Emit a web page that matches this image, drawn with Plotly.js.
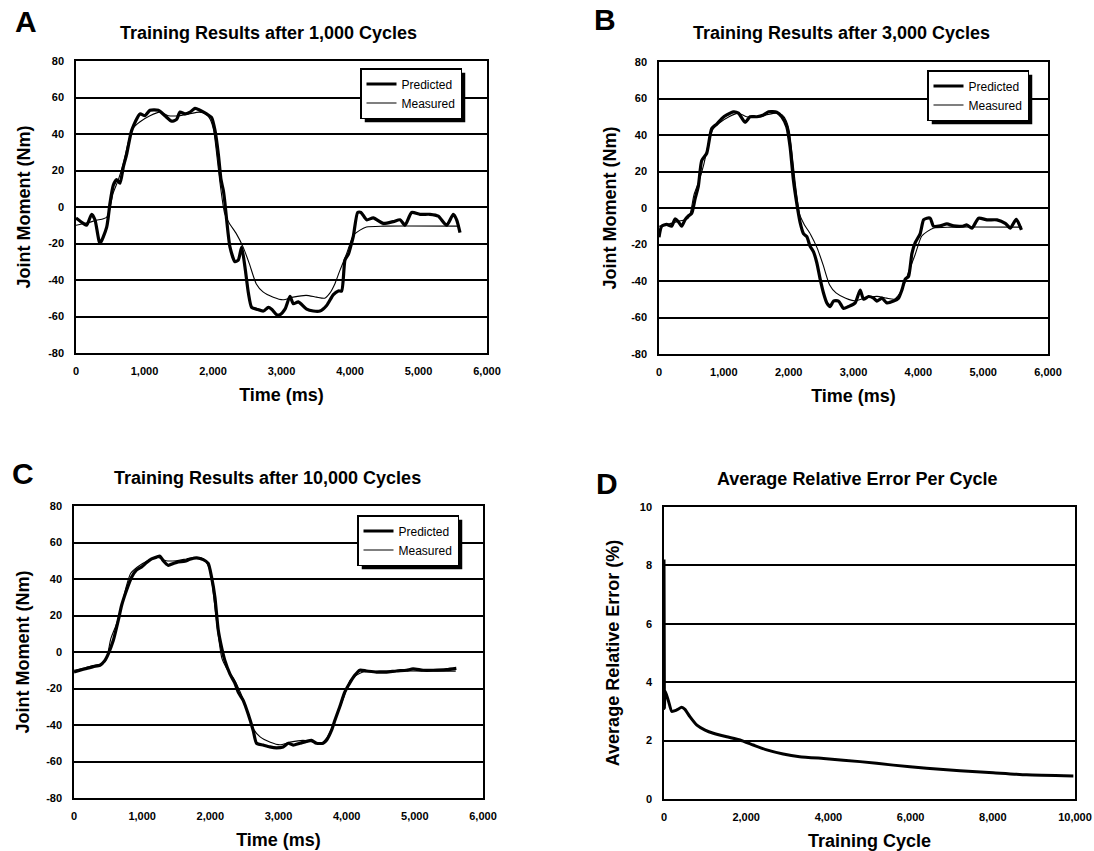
<!DOCTYPE html>
<html>
<head>
<meta charset="utf-8">
<script src="https://cdn.plot.ly/plotly-3.0.1.min.js"></script>
<style>
  html, body { margin: 0; padding: 0; background: #fff; }
  #chart { width: 1094px; height: 851px; }
</style>
</head>
<body>
<div id="chart"></div>
<script>
// ---------------- DATA ----------------
// Shared measured joint moment (thin line)
const measuredTime = [0, 150, 300, 400, 450, 490, 540, 615, 690, 760, 830, 930, 1080, 1220, 1350, 1500, 1650, 1800, 1900, 1960, 2010, 2060, 2110, 2170, 2240, 2340, 2440, 2530, 2630, 2730, 2880, 3020, 3170, 3360, 3510, 3630, 3700, 3780, 3850, 3950, 4050, 4140, 4240, 4480, 5600];
const measuredMoment = [-10, -8.8, -7.3, -6.4, -5.5, -1.8, 7.3, 14.6, 23.8, 35, 43, 46.6, 50, 52, 50, 50, 51, 52, 51, 48, 42, 27, 11, -3.5, -9, -14.6, -22, -31, -42, -46.5, -49.4, -50.8, -49.4, -48.4, -49.4, -50, -47.5, -42, -35, -25.6, -15.5, -12.8, -11, -10.5, -10.5];

// Predicted after 1,000 cycles (A)
const predTimeA = [0, 107, 156, 229, 277, 350, 448, 496, 545, 594, 642, 691, 740, 813, 934, 1007, 1080, 1202, 1299, 1397, 1469, 1518, 1591, 1664, 1737, 1810, 1907, 1980, 2029, 2078, 2117, 2151, 2175, 2199, 2248, 2321, 2370, 2418, 2467, 2516, 2564, 2637, 2735, 2808, 2856, 2929, 2978, 3051, 3124, 3173, 3246, 3367, 3464, 3562, 3659, 3757, 3830, 3878, 3927, 3976, 4000, 4049, 4112, 4160, 4243, 4340, 4486, 4632, 4730, 4803, 4900, 5022, 5168, 5289, 5411, 5508, 5557, 5606];
const predMomentA = [-6, -9, -10, -4, -7, -20, -11, 2, 12, 15, 13, 22, 29, 42, 51, 50, 53, 53, 50, 47, 48, 52, 51, 52, 54, 53, 51, 49, 42, 29, 15, 9, 2, -7, -22, -30, -29, -22, -33, -47, -55, -56, -57, -55, -56, -59, -59, -56, -49, -53, -52, -56, -57, -57, -54, -48, -46, -46, -29, -26, -23, -16, -3, -3, -7, -6, -9, -8, -7, -10, -3, -4, -4, -5, -10, -4, -7, -14];

// Predicted after 3,000 cycles (B)
const predTimeB = [0, 41, 118, 196, 247, 298, 350, 401, 453, 504, 556, 607, 659, 736, 813, 890, 967, 1045, 1148, 1225, 1328, 1405, 1508, 1611, 1688, 1817, 1894, 1971, 2022, 2074, 2125, 2177, 2228, 2280, 2331, 2383, 2434, 2486, 2537, 2588, 2640, 2691, 2769, 2846, 2923, 3026, 3103, 3155, 3232, 3309, 3360, 3438, 3515, 3618, 3695, 3746, 3798, 3849, 3901, 3952, 4029, 4081, 4132, 4184, 4235, 4338, 4441, 4544, 4673, 4750, 4827, 4930, 5058, 5213, 5341, 5419, 5511, 5590];
const predMomentB = [-16, -10, -9, -10, -6, -7.5, -10, -6.5, -4.4, -3, 5, 12, 26, 30, 43.5, 46, 49, 51, 52.7, 52, 47, 50, 50, 51, 52.7, 52.5, 50, 44.5, 33.5, 15, 2.5, -8, -14, -15.7, -21, -24, -30, -39, -46.6, -52, -54, -51, -51, -55, -54, -52, -45, -50, -48.5, -49.4, -51, -49.4, -52, -51, -49.4, -45, -39, -37.5, -25, -19, -14, -6.5, -5.6, -5.6, -10, -9.8, -8.7, -9.8, -10, -9.3, -11, -5.6, -6.5, -6.5, -8.4, -11, -6.2, -12];

// Predicted after 10,000 cycles (C)
const predTimeC = [0, 88, 186, 283, 381, 454, 503, 577, 650, 699, 772, 845, 919, 992, 1065, 1138, 1212, 1261, 1309, 1383, 1456, 1529, 1627, 1700, 1798, 1896, 1969, 2018, 2067, 2116, 2164, 2213, 2287, 2360, 2409, 2482, 2555, 2629, 2678, 2775, 2873, 2971, 3068, 3142, 3215, 3313, 3410, 3484, 3557, 3655, 3704, 3777, 3826, 3899, 3972, 4046, 4119, 4192, 4290, 4437, 4583, 4730, 4876, 4974, 5121, 5268, 5462, 5609];
const predMomentC = [-11, -10, -9, -8, -7.3, -4.6, -1, 6.4, 17.4, 25.6, 34, 41, 45, 46.6, 49, 51, 52, 52.5, 50, 47.5, 48.5, 49.4, 49.7, 50.8, 51.5, 50.6, 48.5, 41, 30, 12, 2.7, -4.6, -12, -17, -22, -26.5, -34, -43, -50, -51, -52, -52.5, -52, -50, -51, -50, -49, -48.4, -50, -50, -48.4, -43, -37.5, -30, -22, -17, -12.8, -10, -10.4, -11, -11, -10.4, -10, -9.3, -10, -10, -9.7, -9];

// Average relative error per training cycle (D)
const trainingCycle = [0, 10, 30, 110, 190, 310, 430, 510, 630, 800, 1000, 1200, 1525, 1850, 2170, 2500, 2900, 3300, 3950, 4770, 5580, 6390, 7200, 8010, 8820, 9960];
const avgRelError = [8.2, 3.1, 3.7, 3.35, 3.0, 3.05, 3.14, 3.07, 2.82, 2.53, 2.36, 2.25, 2.13, 2.02, 1.85, 1.68, 1.54, 1.45, 1.38, 1.28, 1.16, 1.05, 0.97, 0.9, 0.83, 0.79];

// Tick labels
const timeTicks = [0, 1000, 2000, 3000, 4000, 5000, 6000];
const timeTickText = ['0', '1,000', '2,000', '3,000', '4,000', '5,000', '6,000'];
const momentTicks = [-80, -60, -40, -20, 0, 20, 40, 60, 80];
const momentTickText = ['-80', '-60', '-40', '-20', '0', '20', '40', '60', '80'];
const cycleTicks = [0, 2000, 4000, 6000, 8000, 10000];
const cycleTickText = ['0', '2,000', '4,000', '6,000', '8,000', '10,000'];
const errorTicks = [0, 2, 4, 6, 8, 10];
const errorTickText = ['0', '2', '4', '6', '8', '10'];

const panelTitles = ['Training Results after 1,000 Cycles', 'Training Results after 3,000 Cycles', 'Training Results after 10,000 Cycles', 'Average Relative Error Per Cycle'];
const panelLetters = ['A', 'B', 'C', 'D'];
const seriesNames = ['Predicted', 'Measured'];

// ---------------- LAYOUT ----------------
const W = 1094, H = 851;
const FONT = 'Liberation Sans, Arial, Helvetica, sans-serif';
const fx = x => x / W;
const fy = y => 1 - y / H;

// plot boxes in page pixels [left, right, top, bottom]
const boxes = [
  [76, 487, 61, 353],
  [659, 1048, 62, 354],
  [74, 483, 506, 798],
  [664, 1075, 507, 799]
];
const titlePos = [[268, 33], [841, 33], [267, 478], [857, 479]];
const letterPos = [[26, 22], [605, 20], [23, 473], [607, 483]];
const legendPos = [[360, 68], [927, 70], [357, 515]];
const yStandoff = [13, 10, 12, 15];

const tickFont = { family: FONT, size: 11, color: '#000', weight: 'bold' };
const titleFont = { family: FONT, size: 18, color: '#000', weight: 'bold' };

function xAxis(i, isCycle) {
  const b = boxes[i];
  return {
    domain: [fx(b[0]), fx(b[1])],
    anchor: 'y' + (i === 0 ? '' : i + 1),
    range: isCycle ? [0, 10000] : [0, 6000],
    tickmode: 'array',
    tickvals: isCycle ? cycleTicks : timeTicks,
    ticktext: isCycle ? cycleTickText : timeTickText,
    showgrid: false, zeroline: false,
    showline: true, mirror: true, linecolor: '#000', linewidth: 1.5,
    ticks: '', ticklabelstandoff: 7,
    tickfont: tickFont,
    title: { text: isCycle ? 'Training Cycle' : 'Time (ms)', font: titleFont, standoff: 12 },
    fixedrange: true
  };
}
function yAxis(i, isError) {
  const b = boxes[i];
  return {
    domain: [fy(b[3]), fy(b[2])],
    anchor: 'x' + (i === 0 ? '' : i + 1),
    range: isError ? [0, 10] : [-80, 80],
    tickmode: 'array',
    tickvals: isError ? errorTicks : momentTicks,
    ticktext: isError ? errorTickText : momentTickText,
    showgrid: true, gridcolor: '#000', gridwidth: 1.7,
    zeroline: false,
    showline: true, mirror: true, linecolor: '#000', linewidth: 1.5,
    ticks: '', ticklabelstandoff: 8,
    tickfont: tickFont,
    title: { text: isError ? 'Average Relative Error (%)' : 'Joint Moment (Nm)', font: titleFont, standoff: yStandoff[i] },
    fixedrange: true
  };
}

const predTimes = [predTimeA, predTimeB, predTimeC];
const predMoments = [predMomentA, predMomentB, predMomentC];
const legendIds = ['legend', 'legend2', 'legend3'];

const traces = [];
for (let i = 0; i < 3; i++) {
  const sx = i === 0 ? 'x' : 'x' + (i + 1);
  const sy = i === 0 ? 'y' : 'y' + (i + 1);
  traces.push({
    x: predTimes[i], y: predMoments[i], xaxis: sx, yaxis: sy,
    type: 'scatter', mode: 'lines', name: seriesNames[0],
    line: { color: '#000', width: 3.2, shape: 'spline', smoothing: 0.6 }, legend: legendIds[i], hoverinfo: 'x+y'
  });
  traces.push({
    x: measuredTime, y: measuredMoment, xaxis: sx, yaxis: sy,
    type: 'scatter', mode: 'lines', name: seriesNames[1],
    line: { color: '#000', width: 1.1, shape: 'spline', smoothing: 0.6 }, legend: legendIds[i], hoverinfo: 'x+y'
  });
}
traces.push({
  x: trainingCycle, y: avgRelError, xaxis: 'x4', yaxis: 'y4',
  type: 'scatter', mode: 'lines', name: 'Average Relative Error',
  line: { color: '#000', width: 3, shape: 'spline', smoothing: 0.5 }, showlegend: false, hoverinfo: 'x+y'
});

const annotations = [];
for (let i = 0; i < 4; i++) {
  annotations.push({
    text: panelTitles[i], xref: 'paper', yref: 'paper',
    x: fx(titlePos[i][0]), y: fy(titlePos[i][1]), xanchor: 'center', yanchor: 'middle',
    showarrow: false, font: titleFont
  });
  annotations.push({
    text: panelLetters[i], xref: 'paper', yref: 'paper',
    x: fx(letterPos[i][0]), y: fy(letterPos[i][1]), xanchor: 'center', yanchor: 'middle',
    showarrow: false, font: { family: FONT, size: 30, color: '#000', weight: 'bold' }
  });
}

function legendCfg(i) {
  return {
    x: fx(legendPos[i][0]), y: fy(legendPos[i][1]), xanchor: 'left', yanchor: 'top',
    bgcolor: '#fff', bordercolor: '#000', borderwidth: 1.5,
    font: { family: FONT, size: 12, color: '#000' },
    tracegroupgap: 0, itemwidth: 30, itemclick: false, itemdoubleclick: false
  };
}

const layout = {
  width: W, height: H,
  margin: { l: 0, r: 0, t: 0, b: 0 },
  paper_bgcolor: '#fff', plot_bgcolor: '#fff',
  font: { family: FONT, color: '#000' },
  showlegend: true,
  legend: legendCfg(0), legend2: legendCfg(1), legend3: legendCfg(2),
  xaxis: xAxis(0, false), yaxis: yAxis(0, false),
  xaxis2: xAxis(1, false), yaxis2: yAxis(1, false),
  xaxis3: xAxis(2, false), yaxis3: yAxis(2, false),
  xaxis4: xAxis(3, true), yaxis4: yAxis(3, true),
  annotations: annotations
};

const gd = document.getElementById('chart');
Plotly.newPlot(gd, traces, layout, { displayModeBar: false }).then(() => {
  // drop shadows behind the legend boxes
  const bgs = gd.querySelectorAll('g.legend rect.bg, g[class^="legend"] rect.bg');
  const seen = new Set();
  const shapes = [];
  const root = gd.getBoundingClientRect();
  bgs.forEach(bg => {
    if (seen.has(bg)) return; seen.add(bg);
    const r = bg.getBoundingClientRect();
    if (r.width < 5) return;
    const off = 4;
    shapes.push({
      type: 'rect', xref: 'paper', yref: 'paper', layer: 'above',
      x0: fx(r.left - root.left + off), x1: fx(r.right - root.left + off),
      y0: fy(r.bottom - root.top + off), y1: fy(r.top - root.top + off),
      fillcolor: '#000', line: { width: 0 }
    });
  });
  if (shapes.length) Plotly.relayout(gd, { shapes: shapes });
});
</script>
</body>
</html>
